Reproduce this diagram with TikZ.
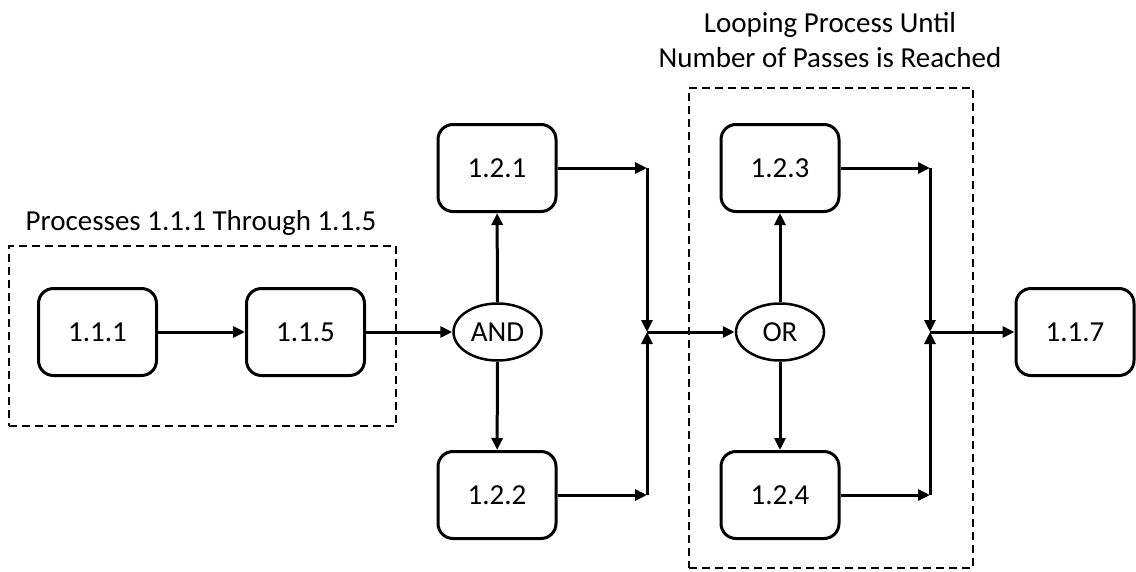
\documentclass[tikz,border=0pt]{standalone}
\usepackage{fontspec}
\setmainfont{Carlito}
\usetikzlibrary{arrows.meta,shapes.geometric}
\begin{document}
\begin{tikzpicture}[x=1pt,y=-1pt,
  proc/.style={draw,line width=3pt,rounded corners=15pt,minimum width=118pt,minimum height=87pt,inner sep=0pt,font=\fontsize{29}{34}\selectfont},
  gate/.style={draw,ellipse,line width=2.5pt,minimum width=88pt,minimum height=57pt,inner sep=0pt,font=\fontsize{29}{34}\selectfont},
  arr/.style={line width=3pt,-{Triangle[length=12pt,width=11pt]}},
  grp/.style={draw,line width=2pt,dash pattern=on 8pt off 5pt,inner sep=0pt},
  lbl/.style={anchor=base,inner sep=0pt,font=\fontsize{29}{34}\selectfont}
]
\useasboundingbox (0,0) rectangle (1136,571);
% groups
\node[grp,minimum width=387pt,minimum height=180pt] (g1) at (202.5,336) {};
\node[grp,minimum width=284pt,minimum height=480pt] (g2) at (831,328) {};
\node[lbl] (t1) at (201,230) {Processes 1.1.1 Through 1.1.5};
\node[lbl] (t2a) at (830,32) {Looping Process Until};
\node[lbl] (t2b) at (830,67) {Number of Passes is Reached};
% nodes
\node[proc] (a) at (97.5,332) {1.1.1};
\node[proc] (b) at (305.5,332) {1.1.5};
\node[gate] (and) at (497.5,332) {AND};
\node[proc] (c1) at (497,168) {1.2.1};
\node[proc] (c2) at (497,495) {1.2.2};
\node[proc] (d1) at (780,168) {1.2.3};
\node[proc] (d2) at (780,495) {1.2.4};
\node[gate] (or) at (780,332) {OR};
\node[proc] (e) at (1075,332) {1.1.7};
\coordinate (j1) at (647,332);
\coordinate (j1t) at (647,168);
\coordinate (j1b) at (647,495);
\coordinate (j2) at (930,332);
\coordinate (j2t) at (930,168);
\coordinate (j2b) at (930,495);
% connectors
\draw[arr] (a) -- (b);
\draw[arr] (b) -- (and);
\draw[arr] (and) -- (c1);
\draw[arr] (and) -- (c2);
\draw[arr] (c1.east) -- (j1t);
\draw[arr] (c2.east) -- (j1b);
\draw[arr] (j1t) -- (j1);
\draw[arr] (j1b) -- (j1);
\draw[arr] (j1) -- (or);
\draw[arr] (or) -- (d1);
\draw[arr] (or) -- (d2);
\draw[arr] (d1.east) -- (j2t);
\draw[arr] (d2.east) -- (j2b);
\draw[arr] (j2t) -- (j2);
\draw[arr] (j2b) -- (j2);
\draw[arr] (j2) -- (e);
\end{tikzpicture}
\end{document}
